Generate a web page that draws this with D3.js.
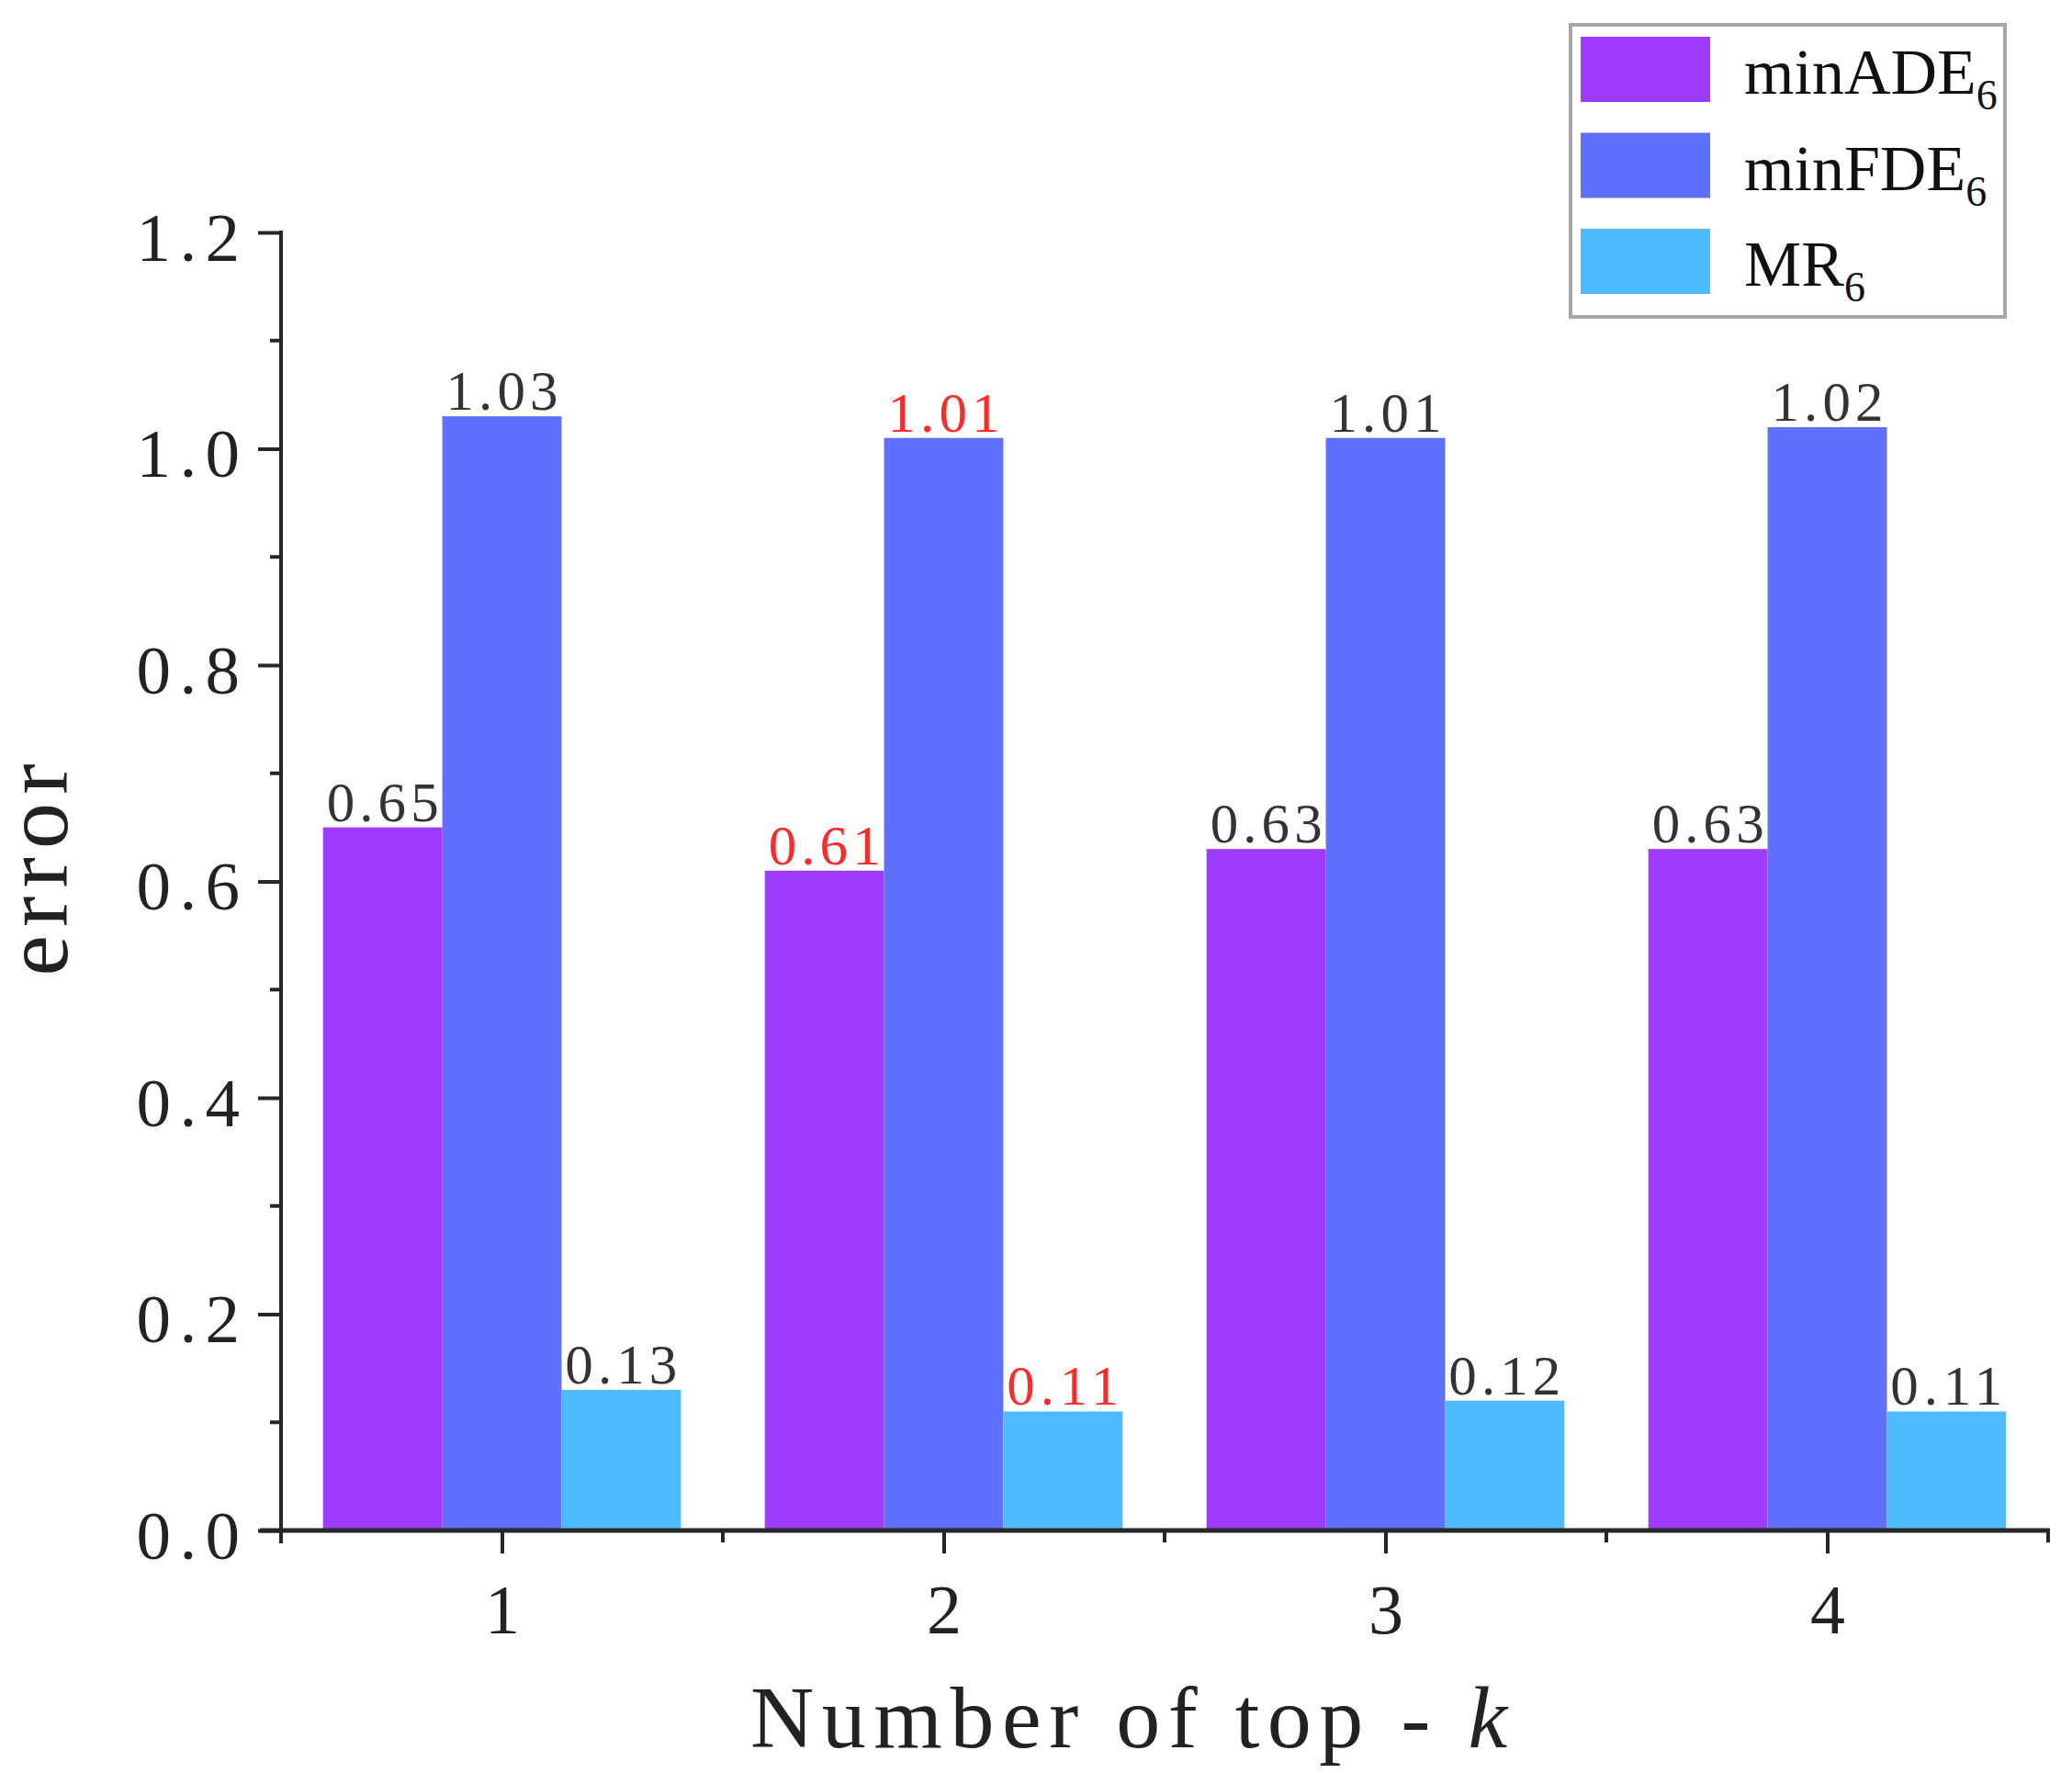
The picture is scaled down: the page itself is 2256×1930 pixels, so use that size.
<!DOCTYPE html>
<html>
<head>
<meta charset="utf-8">
<script src="https://cdn.jsdelivr.net/npm/d3@7"></script>
<style>
  html, body { margin: 0; padding: 0; background: #fff; }
  svg { display: block; }
</style>
</head>
<body>
<svg id="chart" width="2256" height="1930"></svg>
<script>
// ---- data ----
const categories = [1, 2, 3, 4];
const seriesNames = ["minADE", "minFDE", "MR"];
const minADE = [0.65, 0.61, 0.63, 0.63];
const minFDE = [1.03, 1.01, 1.01, 1.02];
const MR = [0.13, 0.11, 0.12, 0.11];
const highlightCategory = 2; // labels drawn in red
const yTicks = [0.0, 0.2, 0.4, 0.6, 0.8, 1.0, 1.2];
const yMinorTicks = [0.1, 0.3, 0.5, 0.7, 0.9, 1.1];
const xMinorTicks = [1.5, 2.5, 3.5, 4.5];
const seriesColors = ["#9D3BFF", "#5F70FF", "#4FBBFF"];

const seriesValues = [minADE, minFDE, MR];

const svg = d3.select("#chart");
const axisColor = "#262626";
const serif = "'Liberation Serif', 'Times New Roman', serif";

const x = d3.scaleLinear().domain([0.5, 4.5]).range([306, 2230]);
const y = d3.scaleLinear().domain([0, 1.2]).range([1666, 253]);

const groupWidth = 0.81;
const barW = groupWidth / seriesNames.length;

// flat data
const bars = [];
categories.forEach((c, ci) => {
  seriesValues.forEach((vals, si) => {
    bars.push({ cat: c, series: si, value: vals[ci] });
  });
});

// bars
svg.append("g").selectAll("rect").data(bars).join("rect")
  .attr("x", d => x(d.cat - groupWidth / 2 + d.series * barW))
  .attr("width", d => x(d.cat - groupWidth / 2 + (d.series + 1) * barW) - x(d.cat - groupWidth / 2 + d.series * barW))
  .attr("y", d => y(d.value))
  .attr("height", d => y(0) - y(d.value))
  .attr("fill", d => seriesColors[d.series]);

// value labels
const labelFs = 61;
svg.append("g").selectAll("text").data(bars).join("text")
  .attr("x", d => x(d.cat - groupWidth / 2 + (d.series + 0.5) * barW))
  .attr("y", d => y(d.value) - 7)
  .attr("text-anchor", "middle")
  .attr("font-family", serif)
  .attr("font-size", labelFs)
  .attr("fill", d => d.cat === highlightCategory ? "#FF2B2B" : "#333")
  .attr("textLength", d => d.value.toFixed(2).length * 0.5 * labelFs)
  .attr("lengthAdjust", "spacing")
  .text(d => d.value.toFixed(2));

// y axis
const tickFs = 75;
const yAxisG = svg.append("g").attr("transform", `translate(${x(0.5)},0)`)
  .call(d3.axisLeft(y).tickValues(yTicks).tickSize(25).tickPadding(20).tickFormat(d3.format(".1f")));
yAxisG.select(".domain").remove();
yAxisG.selectAll(".tick line").attr("stroke", axisColor).attr("stroke-width", 4);
yAxisG.selectAll(".tick text")
  .attr("font-family", serif).attr("font-size", tickFs).attr("fill", "#222")
  .attr("dy", "0.40em")
  .attr("textLength", d => d3.format(".1f")(d).length * 0.5 * tickFs)
  .attr("lengthAdjust", "spacing");
yAxisG.selectAll(".minor").data(yMinorTicks).join("line").attr("class", "minor")
  .attr("x1", -12).attr("x2", 0)
  .attr("y1", d => y(d)).attr("y2", d => y(d))
  .attr("stroke", axisColor).attr("stroke-width", 4);

// x axis
const xAxisG = svg.append("g").attr("transform", `translate(0,${y(0)})`)
  .call(d3.axisBottom(x).tickValues(categories).tickSize(25).tickPadding(33).tickFormat(d3.format("d")));
xAxisG.select(".domain").remove();
xAxisG.selectAll(".tick line").attr("stroke", axisColor).attr("stroke-width", 4);
xAxisG.selectAll(".tick text")
  .attr("font-family", serif).attr("font-size", 76).attr("fill", "#222");
xAxisG.selectAll(".minor").data(xMinorTicks).join("line").attr("class", "minor")
  .attr("x1", d => x(d)).attr("x2", d => x(d))
  .attr("y1", 0).attr("y2", 13)
  .attr("stroke", axisColor).attr("stroke-width", 4);

// axis lines (crossing)
svg.append("line")
  .attr("x1", x(0.5)).attr("x2", x(0.5))
  .attr("y1", y(1.2) - 2).attr("y2", y(0) + 14)
  .attr("stroke", axisColor).attr("stroke-width", 4);
svg.append("line")
  .attr("x1", x(0.5) - 23).attr("x2", x(4.5) + 2)
  .attr("y1", y(0)).attr("y2", y(0))
  .attr("stroke", axisColor).attr("stroke-width", 5);

// axis titles
svg.append("text")
  .attr("transform", `translate(73,947) rotate(-90)`)
  .attr("text-anchor", "middle")
  .attr("font-family", serif).attr("font-size", 100).attr("fill", "#222")
  .attr("textLength", 231).attr("lengthAdjust", "spacing")
  .text("error");

const xt = svg.append("text")
  .attr("x", 817).attr("y", 1902)
  .attr("font-family", serif).attr("font-size", 96).attr("fill", "#222")
  .attr("textLength", 824).attr("lengthAdjust", "spacing");
xt.append("tspan").text("Number of top - ");
xt.append("tspan").attr("font-style", "italic").text("k");

// legend
const legend = svg.append("g");
legend.append("rect")
  .attr("x", 1710).attr("y", 27).attr("width", 473).attr("height", 318)
  .attr("fill", "#fff").attr("stroke", "#a6a6a6").attr("stroke-width", 4);
const rows = legend.selectAll("g.row").data(seriesNames).join("g").attr("class", "row")
  .attr("transform", (d, i) => `translate(1721,${40 + i * 104.5})`);
rows.append("rect")
  .attr("width", 141).attr("height", 71)
  .attr("fill", (d, i) => seriesColors[i]);
const lt = rows.append("text")
  .attr("x", 178).attr("y", 62)
  .attr("font-family", serif).attr("font-size", 70).attr("fill", "#111");
lt.append("tspan").text(d => d);
lt.append("tspan").attr("font-size", 46).attr("dy", 17).text("6");
</script>
</body>
</html>
